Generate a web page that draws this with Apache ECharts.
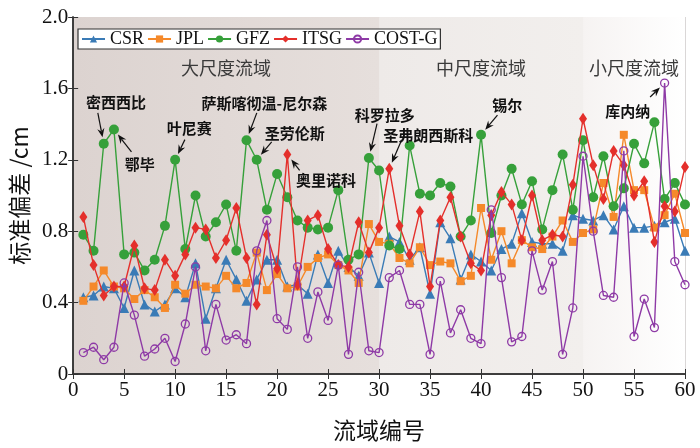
<!DOCTYPE html>
<html>
<head>
<meta charset="utf-8">
<script src="https://cdn.jsdelivr.net/npm/echarts@6/dist/echarts.min.js"></script>
<style>
  html, body { margin: 0; padding: 0; background: #fff; }
  #main-chart { width: 700px; height: 448px; }
</style>
</head>
<body>
<div id="main-chart"></div>
<script>
// basin index, 1..60
const basins = [
  1, 2, 3, 4, 5, 6, 7, 8, 9, 10, 11, 12, 13, 14, 15, 16, 17, 18, 19, 20,
  21, 22, 23, 24, 25, 26, 27, 28, 29, 30, 31, 32, 33, 34, 35, 36, 37, 38, 39, 40,
  41, 42, 43, 44, 45, 46, 47, 48, 49, 50, 51, 52, 53, 54, 55, 56, 57, 58, 59, 60
]

const csr = [
  0.43, 0.44, 0.49, 0.48, 0.37, 0.58, 0.39, 0.35, 0.39, 0.48, 0.43, 0.62, 0.31, 0.48, 0.64, 0.53, 0.41, 0.53, 0.64, 0.64,
  0.49, 0.50, 0.45, 0.67, 0.51, 0.69, 0.60, 0.55, 0.68, 0.51, 0.77, 0.74, 0.64, 0.71, 0.45, 0.85, 0.76, 0.53, 0.67, 0.63,
  0.58, 0.70, 0.73, 0.90, 0.74, 0.73, 0.73, 0.69, 0.89, 0.87, 0.86, 0.89, 0.81, 0.94, 0.82, 0.82, 0.83, 0.85, 0.87, 0.69
]
const jpl = [
  0.41, 0.49, 0.58, 0.49, 0.48, 0.42, 0.47, 0.43, 0.37, 0.50, 0.45, 0.50, 0.49, 0.48, 0.55, 0.48, 0.51, 0.68, 0.47, 0.56,
  0.48, 0.49, 0.60, 0.65, 0.67, 0.61, 0.58, 0.51, 0.84, 0.74, 0.73, 0.65, 0.62, 0.71, 0.61, 0.63, 0.62, 0.52, 0.55, 0.93,
  0.64, 0.80, 0.62, 0.75, 0.71, 0.70, 0.77, 0.86, 0.74, 0.79, 0.81, 1.07, 0.88, 1.34, 1.03, 1.03, 0.82, 0.89, 1.01, 0.79
]
const gfz = [
  0.78, 0.69, 1.29, 1.37, 0.67, 0.68, 0.58, 0.64, 0.83, 1.20, 0.70, 1.00, 0.77, 0.85, 0.95, 0.69, 1.31, 1.20, 0.92, 1.12,
  0.99, 0.86, 0.82, 0.81, 0.82, 1.03, 0.64, 0.67, 1.21, 1.14, 0.72, 0.70, 1.28, 1.01, 1.00, 1.07, 1.05, 0.77, 0.86, 1.34,
  0.79, 1.00, 1.15, 0.95, 1.08, 0.81, 1.03, 1.23, 0.92, 1.31, 0.99, 1.22, 0.94, 1.04, 1.29, 1.18, 1.41, 0.98, 1.07, 0.95
]
const itsg = [
  0.88, 0.61, 0.44, 0.49, 0.49, 0.72, 0.48, 0.47, 0.64, 0.55, 0.67, 0.82, 0.81, 0.65, 0.75, 0.93, 0.65, 0.39, 0.78, 0.59,
  1.23, 0.50, 0.86, 0.89, 0.70, 0.61, 0.60, 0.85, 0.68, 0.82, 1.15, 0.83, 0.67, 0.91, 0.49, 0.86, 0.99, 0.77, 0.62, 0.58,
  0.89, 1.02, 0.95, 0.75, 1.00, 0.75, 0.78, 0.77, 1.06, 1.43, 1.17, 0.98, 1.25, 1.17, 1.00, 1.08, 0.74, 0.94, 0.91, 1.16
]
const costg = [
  0.12, 0.15, 0.08, 0.15, 0.51, 0.33, 0.10, 0.14, 0.20, 0.07, 0.28, 0.60, 0.13, 0.39, 0.19, 0.22, 0.17, 0.69, 0.86, 0.31,
  0.25, 0.60, 0.20, 0.46, 0.30, 0.61, 0.11, 0.57, 0.13, 0.12, 0.54, 0.58, 0.39, 0.39, 0.11, 0.52, 0.23, 0.36, 0.20, 0.17,
  0.92, 0.54, 0.18, 0.21, 0.69, 0.47, 0.63, 0.11, 0.37, 1.22, 0.80, 0.44, 0.43, 1.25, 0.21, 0.42, 0.26, 1.63, 0.63, 0.50
]

const seriesNames = ['CSR', 'JPL', 'GFZ', 'ITSG', 'COST-G']
const seriesValues = [csr, jpl, gfz, itsg, costg]

// basin size groups: [from, to, label]
const regions = [
  [0, 30, '大尺度流域'],
  [30, 50, '中尺度流域'],
  [50, 60, '小尺度流域'],
]

const xTicks = [0, 5, 10, 15, 20, 25, 30, 35, 40, 45, 50, 55, 60]
const yTicks = [0, 0.4, 0.8, 1.2, 1.6, 2.0]

// named basins: label centre and arrow tail in data coords, arrow points at a series value
const annotations = [
  { text: '密西西比', at: [4.2, 1.524], tail: [2.42, 1.463], series: 'GFZ', basin: 3 },
  { text: '鄂毕', at: [6.53, 1.175], tail: [5.72, 1.244], series: 'GFZ', basin: 4 },
  { text: '叶尼赛', at: [11.38, 1.375], tail: [10.96, 1.313], series: 'GFZ', basin: 10 },
  { text: '萨斯喀彻温-尼尔森', at: [18.75, 1.519], tail: [18.01, 1.463], series: 'GFZ', basin: 17 },
  { text: '圣劳伦斯', at: [21.73, 1.351], tail: [19.47, 1.300], series: 'GFZ', basin: 18 },
  { text: '奥里诺科', at: [24.8, 1.085], tail: [22.21, 1.141], series: 'ITSG', basin: 21 },
  { text: '科罗拉多', at: [30.55, 1.45], tail: [29.8, 1.403], series: 'GFZ', basin: 29 },
  { text: '圣弗朗西斯科', at: [34.82, 1.340], tail: [32.2, 1.310], series: 'ITSG', basin: 31 },
  { text: '锡尔', at: [42.58, 1.506], tail: [41.61, 1.45], series: 'GFZ', basin: 40 },
  { text: '库内纳', at: [54.38, 1.472], tail: [56.58, 1.552], series: 'COST-G', basin: 58 },
]

const COLORS = ['#3a7bb6', '#f5892a', '#36a03a', '#e42f2b', '#8e3aa6']
const SERIF = '"Liberation Serif", "Times New Roman", serif'
const CJK = '"Noto Sans CJK SC", sans-serif'

const regionFills = [
  ['#dcd3d0', '#e6dfdc'],
  ['#eeeae8', '#f2efed'],
  ['#f6f3f2', '#ffffff'],
]

function lineSeries(i, symbol, symbolSize) {
  const color = COLORS[i]
  return {
    name: seriesNames[i],
    type: 'line',
    xAxisIndex: 0,
    yAxisIndex: 0,
    data: basins.map((b, k) => [b, seriesValues[i][k]]),
    symbol,
    symbolSize,
    showAllSymbol: true,
    lineStyle: { width: 1.4, color },
    itemStyle: { color },
    emphasis: { disabled: true },
    animation: false,
    z: 2 + i,
  }
}

const series = [
  lineSeries(0, 'triangle', 10),
  lineSeries(1, 'rect', 8),
  lineSeries(2, 'circle', 10),
  lineSeries(3, 'diamond', [8, 12]),
  lineSeries(4, 'circle', 8),
]
series[4].itemStyle = { color: 'rgba(255,255,255,0)', borderColor: COLORS[4], borderWidth: 1.3 }

series[0].markArea = {
  silent: true,
  z: 0,
  data: regions.map(([from, to, label], i) => [
    {
      xAxis: from,
      name: label,
      itemStyle: {
        color: new echarts.graphic.LinearGradient(0, 0, 1, 0, [
          { offset: 0, color: regionFills[i][0] },
          { offset: 1, color: regionFills[i][1] },
        ]),
      },
    },
    { xAxis: to },
  ]),
  label: {
    show: true,
    position: 'insideTop',
    distance: 42,
    fontFamily: CJK,
    fontSize: 18,
    color: '#3a3a3a',
  },
}

const axisLine = { show: true, lineStyle: { color: '#333', width: 1.5 } }
const axisTick = { show: true, inside: true, length: 5, lineStyle: { color: '#333', width: 1 } }
const splitLine = { show: true, lineStyle: { color: 'rgba(150,140,140,0.35)', width: 1 } }

const option = {
  backgroundColor: '#fff',
  animation: false,
  grid: { left: 66, right: 15, top: 17, bottom: 74 },
  legend: {
    data: seriesNames,
    left: 78,
    top: 29,
    itemWidth: 23,
    itemHeight: 9,
    itemGap: 3,
    padding: [1, 3, 1, 3],
    backgroundColor: '#fff',
    borderColor: '#333',
    borderWidth: 1.2,
    borderRadius: 0,
    textStyle: { fontFamily: SERIF, fontSize: 18, color: '#111' },
    z: 10,
  },
  xAxis: [
    {
      type: 'value',
      min: xTicks[0],
      max: xTicks[xTicks.length - 1],
      interval: 5,
      name: '流域编号',
      nameLocation: 'middle',
      nameGap: 45,
      nameTextStyle: { fontFamily: CJK, fontSize: 23, color: '#111' },
      axisLine,
      axisTick,
      splitLine,
      axisLabel: { fontFamily: SERIF, fontSize: 21, color: '#111', margin: 6 },
    },
    {
      type: 'value',
      position: 'top',
      min: xTicks[0],
      max: xTicks[xTicks.length - 1],
      interval: 5,
      axisLine,
      axisTick,
      splitLine: { show: false },
      axisLabel: { show: false },
    },
  ],
  yAxis: [
    {
      type: 'value',
      min: yTicks[0],
      max: yTicks[yTicks.length - 1],
      interval: 0.4,
      name: '标准偏差 /cm',
      nameLocation: 'middle',
      nameGap: 38,
      nameTextStyle: { fontFamily: CJK, fontSize: 23, color: '#111' },
      axisLine,
      axisTick,
      splitLine,
      axisLabel: {
        fontFamily: SERIF,
        fontSize: 21,
        color: '#111',
        margin: 5,
        formatter: v => (v === 0 ? '0' : v.toFixed(1)),
      },
    },
    {
      type: 'value',
      position: 'right',
      min: yTicks[0],
      max: yTicks[yTicks.length - 1],
      interval: 0.4,
      axisLine,
      axisTick,
      splitLine: { show: false },
      axisLabel: { show: false },
    },
  ],
  series,
}

const chart = echarts.init(document.getElementById('main-chart'), null, { renderer: 'canvas' })
chart.setOption(option)

// arrows + basin names, placed through the grid's own scales
function buildAnnotations() {
  const elements = []
  annotations.forEach(a => {
    const idx = seriesNames.indexOf(a.series)
    const value = seriesValues[idx][a.basin - 1]
    const target = chart.convertToPixel({ gridIndex: 0 }, [a.basin, value])
    const tail = chart.convertToPixel({ gridIndex: 0 }, a.tail)
    const at = chart.convertToPixel({ gridIndex: 0 }, a.at)

    const dx = target[0] - tail[0]
    const dy = target[1] - tail[1]
    const len = Math.hypot(dx, dy)
    const ux = dx / len
    const uy = dy / len
    const px = -uy
    const py = ux
    const tip = [target[0] - ux * 6.5, target[1] - uy * 6.5]
    const notch = [tip[0] - ux * 6, tip[1] - uy * 6]
    const back = [tip[0] - ux * 9, tip[1] - uy * 9]

    elements.push({
      type: 'line',
      silent: true,
      z: 20,
      shape: { x1: tail[0], y1: tail[1], x2: notch[0], y2: notch[1] },
      style: { stroke: '#111', lineWidth: 1.2 },
    })
    elements.push({
      type: 'polygon',
      silent: true,
      z: 20,
      shape: {
        points: [
          tip,
          [back[0] + px * 3.6, back[1] + py * 3.6],
          notch,
          [back[0] - px * 3.6, back[1] - py * 3.6],
        ],
      },
      style: { fill: '#111' },
    })
    elements.push({
      type: 'text',
      silent: true,
      z: 20,
      x: at[0],
      y: at[1],
      style: {
        text: a.text,
        align: 'center',
        verticalAlign: 'middle',
        font: 'bold 15px ' + CJK,
        fill: '#111',
      },
    })
  })
  return elements
}

chart.setOption({ graphic: buildAnnotations() })
</script>
</body>
</html>
